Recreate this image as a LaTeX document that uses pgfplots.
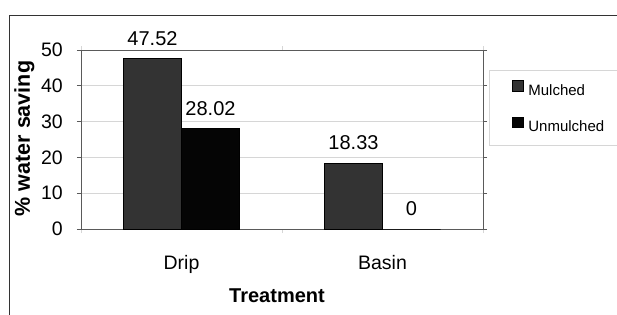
\documentclass[border=0pt]{standalone}
\usepackage{pgfplots}
\pgfplotsset{compat=1.18}
\usepackage{fontspec}
\setmainfont{Liberation Sans}
\definecolor{mulch}{HTML}{333333}
\definecolor{unmulch}{HTML}{050505}
\definecolor{framec}{HTML}{5A5A5A}
\definecolor{gridc}{HTML}{D6D6D6}
\begin{document}
\begin{tikzpicture}
\useasboundingbox (0pt,0pt) rectangle (617pt,314pt);
\clip (0pt,0pt) rectangle (617pt,314pt);
\draw[line width=1pt, color=black!80] (9.5pt,-10pt) -- (9.5pt,298.5pt) -- (630pt,298.5pt);
\begin{axis}[
  at={(81pt,85pt)}, anchor=south west,
  scale only axis, width=402pt, height=179pt,
  ybar=0pt, bar width=58pt,
  xmin=-0.5, xmax=1.5, ymin=0, ymax=50,
  /pgf/number format/assume math mode=true,
  axis line style={draw=framec, line width=0.9pt},
  xtick={-0.5,0.5,1.5}, xticklabels={},
  x tick style={draw=gridc, line width=0.8pt},
  extra x ticks={0,1}, extra x tick labels={Drip,Basin},
  extra x tick style={major tick length=0pt, grid=none},
  xticklabel style={font=\fontsize{19.5}{22}\selectfont, anchor=north, inner sep=0pt, yshift=-26pt},
  ytick={0,10,...,50},
  y tick style={draw=framec, line width=0.8pt},
  tick align=outside, major tick length=4pt,
  yticklabel style={font=\fontsize{19.5}{22}\selectfont, anchor=east, inner sep=0pt, xshift=-14pt},
  ymajorgrids, grid style={draw=gridc, line width=0.8pt},
  xlabel={\textbf{Treatment}},
  xlabel style={font=\fontsize{20}{24}\selectfont, at={(axis description cs:0.4876,0)}, anchor=north, inner sep=0pt, yshift=-60pt},
  ylabel={\textbf{\% water saving}},
  ylabel style={font=\fontsize{21.5}{24}\selectfont, at={(axis description cs:0,0.5056)}, anchor=base, inner sep=0pt, yshift=51pt},
  nodes near coords,
  nodes near coords style={font=\fontsize{20}{22}\selectfont, anchor=south, inner sep=0pt, yshift=13pt},
  legend style={at={(axis description cs:1.0149,0.8883)}, anchor=north west, draw=gridc, line width=0.8pt,
    font=\fontsize{15}{18}\selectfont, inner xsep=15pt, inner ysep=10pt, row sep=18pt},
  legend cell align=left,
  legend image code/.code={\path[draw=none,fill=none] (-8pt,0pt) -- (14pt,0pt);\draw[#1, line width=0.6pt] (0pt,-0.5pt) rectangle (10.5pt,10pt);},
]
\addplot[fill=mulch, draw=black, line width=0.8pt] coordinates {(0,47.52) (1,18.33)};
\addplot[fill=unmulch, draw=black, line width=0.8pt] coordinates {(0,28.02) (1,0)};
\legend{Mulched,Unmulched}
\end{axis}
\end{tikzpicture}
\end{document}
